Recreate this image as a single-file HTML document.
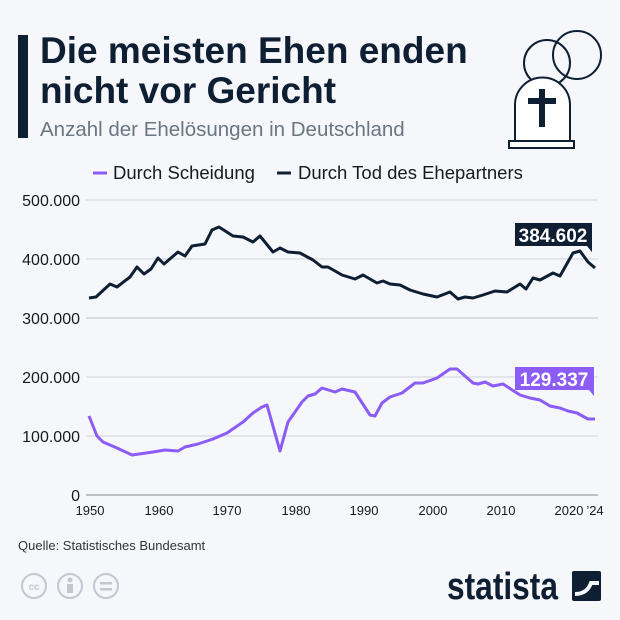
<!DOCTYPE html><html><head><meta charset="utf-8"><style>
body{margin:0;width:620px;height:620px;background:#f5f7fa;font-family:"Liberation Sans",sans-serif;overflow:hidden;position:relative}
.a{position:absolute}
</style></head><body>
<div class="a" style="left:18px;top:35px;width:10px;height:103px;background:#0e1e33"></div>
<div class="a" style="left:40px;top:31px;font-size:37px;font-weight:bold;color:#0e1e33;line-height:40px">Die meisten Ehen enden<br>nicht vor Gericht</div>
<div class="a" style="left:40px;top:118px;font-size:20.5px;color:#6b7682">Anzahl der Ehelösungen in Deutschland</div>
<svg class="a" style="left:0;top:0" width="620" height="620">
<circle cx="547" cy="63" r="23" fill="none" stroke="#0e1e33" stroke-width="2"/>
<circle cx="577" cy="55" r="24" fill="none" stroke="#0e1e33" stroke-width="2"/>
<path d="M515 141 V105 a27.5 27.5 0 0 1 55 0 V141 Z" fill="#fff" stroke="#0e1e33" stroke-width="2"/>
<rect x="509" y="141" width="65" height="7" fill="#fff" stroke="#0e1e33" stroke-width="2"/>
<rect x="539" y="89" width="6" height="38" fill="#0e1e33"/><rect x="528" y="98" width="28" height="6" fill="#0e1e33"/>
<line x1="93" y1="173" x2="107" y2="173" stroke="#8b5cf6" stroke-width="3"/>
<text x="113" y="179" font-size="18.5" fill="#1a1a1a">Durch Scheidung</text>
<line x1="277" y1="173" x2="291" y2="173" stroke="#0e1e33" stroke-width="3"/>
<text x="298" y="179" font-size="18.5" fill="#1a1a1a">Durch Tod des Ehepartners</text>
<g stroke="#cfd3d8" stroke-width="1">
<line x1="86" y1="200" x2="598" y2="200"/><line x1="86" y1="259" x2="598" y2="259"/><line x1="86" y1="318" x2="598" y2="318" stroke="#d8dbe0" stroke-width="2"/><line x1="86" y1="377" x2="598" y2="377"/><line x1="86" y1="436" x2="598" y2="436"/><line x1="86" y1="495" x2="598" y2="495" stroke="#888"/>
</g>
<g font-size="16" fill="#1a1a1a" text-anchor="end">
<text x="80" y="206">500.000</text><text x="80" y="265">400.000</text><text x="80" y="324">300.000</text><text x="80" y="383">200.000</text><text x="80" y="442">100.000</text><text x="80" y="501">0</text>
</g>
<g font-size="13" fill="#1a1a1a" text-anchor="middle">
<text x="90" y="515">1950</text><text x="159" y="515">1960</text><text x="227" y="515">1970</text><text x="296" y="515">1980</text><text x="364" y="515">1990</text><text x="433" y="515">2000</text><text x="501" y="515">2010</text><text x="569" y="515">2020</text><text x="595" y="515">’24</text>
</g>
<polyline fill="none" stroke="#0e1e33" stroke-width="3" stroke-linejoin="round" points="89,298 96,297 110,284 117,287 130,277 137,267 144,274 151,269 158,258 164,264 178,252 185,256 192,246 205,244 212,230 219,227 233,236 243,237 253,242 260,236 273,252 280,248 288,252 300,253 313,260 322,267 328,267 342,275 355,279 363,275 377,283 383,281 390,284 400,285 410,290 423,294 437,297 450,292 458,299 465,297 473,298 483,295 495,291 507,292 520,284 526,289 533,278 540,280 553,273 560,276 573,253 580,251 588,262 595,268"/>
<polyline fill="none" stroke="#8b5cf6" stroke-width="3" stroke-linejoin="round" points="89,416 97,436 103,442 117,448 132,455 153,452 165,450 178,451 185,447 198,444 213,439 220,436 227,433 243,422 253,413 262,407 267,405 280,451 288,422 302,402 308,396 315,394 322,388 335,392 342,389 355,392 370,415 375,416 382,403 390,397 402,393 415,383 423,383 437,378 450,369 457,369 473,383 478,384 485,382 493,386 503,384 520,395 530,398 540,400 550,406 560,408 568,411 577,413 588,419 595,419"/>
<path d="M515 223 H592 V252 L587 246 H515 Z" fill="#0e1e33"/>
<text x="553" y="242" font-size="19" font-weight="bold" fill="#fff" text-anchor="middle">384.602</text>
<path d="M515 367 H594 V396 L589 390 H515 Z" fill="#8b5cf6"/>
<text x="554" y="386" font-size="19" font-weight="bold" fill="#fff" text-anchor="middle">129.337</text>
<text x="18" y="550" font-size="13" fill="#333">Quelle: Statistisches Bundesamt</text>
<g fill="none" stroke="#c3c8cf" stroke-width="2">
<circle cx="34" cy="586" r="12"/><circle cx="70" cy="586" r="12"/><circle cx="106" cy="586" r="12"/>
</g>
<text x="34" y="590" font-size="10" font-weight="bold" fill="#c3c8cf" text-anchor="middle">cc</text>
<circle cx="70" cy="580" r="2.5" fill="#c3c8cf"/><rect x="67" y="584" width="6" height="9" fill="#c3c8cf"/>
<rect x="100" y="582" width="12" height="2.5" fill="#c3c8cf"/><rect x="100" y="588" width="12" height="2.5" fill="#c3c8cf"/>
<text x="447" y="599" font-size="38" font-weight="bold" fill="#0e1e33" textLength="111" lengthAdjust="spacingAndGlyphs">statista</text>
<rect x="572" y="571" width="29" height="30" rx="2" fill="#0e1e33"/>
<path d="M575 594 Q587 594 591 583 L599 583" stroke="#f5f7fa" stroke-width="4" fill="none"/>
</svg>
</body></html>
